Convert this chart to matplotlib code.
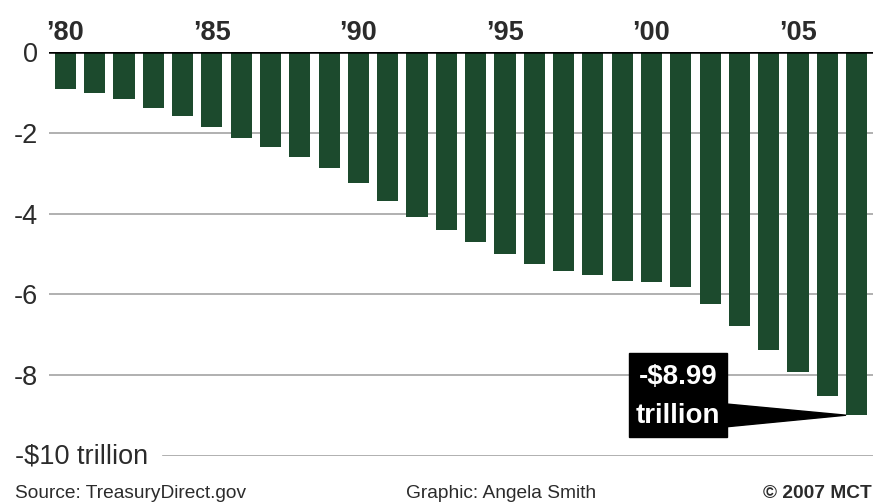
import matplotlib
matplotlib.use("Agg")
import matplotlib.pyplot as plt
from matplotlib.patches import Rectangle, Polygon
from matplotlib.transforms import blended_transform_factory

# ---- data ----
years = list(range(1980, 2008))
debt = [-0.92, -1.01, -1.16, -1.39, -1.58, -1.85, -2.13, -2.36, -2.61, -2.86,
        -3.25, -3.68, -4.08, -4.41, -4.70, -4.99, -5.24, -5.41, -5.53, -5.67,
        -5.69, -5.81, -6.24, -6.79, -7.38, -7.93, -8.51, -8.99]
year_ticks = [1980, 1985, 1990, 1995, 2000, 2005]
year_labels = ["\u201980", "\u201985", "\u201990", "\u201995", "\u201900", "\u201905"]
y_ticks = [0, -2, -4, -6, -8]
y_labels = ["0", "-2", "-4", "-6", "-8"]
bottom_label = "-$10 trillion"
callout = ["-$8.99", "trillion"]

plt.rcParams['font.family'] = ['Liberation Sans', 'DejaVu Sans']

BAR = "#1c4a2d"
GRID = "#a3a3a3"
TXT = "#2b2b2b"

fig = plt.figure(figsize=(8.75, 5.04), dpi=100)
ax = fig.add_axes([49/875, 48/504, 824/875, 404/504])

ax.set_xlim(1979.44, 2007.56)
ax.set_ylim(-10, 0)

for s in ax.spines.values():
    s.set_visible(False)

# gridlines
for v in [-2, -4, -6, -8]:
    ax.axhline(v, color=GRID, lw=1.2, zorder=1)
ax.axhline(-10, xmin=(163-49)/824, xmax=1, color=GRID, lw=1.2, zorder=1)

w = 0.72
ax.bar(years, debt, width=w, color=BAR, zorder=2)
ax.axhline(0, color="black", lw=1.8, zorder=3)

# ticks
ax.xaxis.tick_top()
ax.set_xticks(year_ticks)
ax.set_xticklabels(year_labels, fontsize=19.5, fontweight="bold", color=TXT)
ax.tick_params(axis="x", length=0, pad=4)
ax.set_yticks(y_ticks)
ax.set_yticklabels(y_labels, fontsize=19.5, color=TXT)
ax.tick_params(axis="y", length=0, pad=8)

trans = blended_transform_factory(fig.transFigure, ax.transData)
ax.text(15/875, -10, bottom_label, transform=trans, fontsize=19.5, color=TXT,
        ha="left", va="center")

# callout
tip_x = years[-1] - w/2
tip_y = debt[-1]
bx0, bx1 = 1999.23, 2002.57
by0, by1 = -9.53, -7.45
ax.add_patch(Rectangle((bx0, by0), bx1 - bx0, by1 - by0, color="black", zorder=4))
ax.add_patch(Polygon([(bx1 - 0.05, -8.71), (tip_x, tip_y), (bx1 - 0.05, -9.28)],
                     closed=True, color="black", zorder=4))
cx = (bx0 + bx1) / 2
ax.text(cx, -8.05, callout[0], color="white", fontsize=20, fontweight="bold",
        ha="center", va="center", zorder=5, fontstretch="condensed")
ax.text(cx, -9.0, callout[1], color="white", fontsize=20, fontweight="bold",
        ha="center", va="center", zorder=5, fontstretch="condensed")

# footer
fy = 1 - 494/504
fig.text(15/875, fy, "Source: TreasuryDirect.gov", fontsize=13.8, color=TXT,
         ha="left", va="center")
fig.text(501/875, fy, "Graphic: Angela Smith", fontsize=13.8, color=TXT,
         ha="center", va="center")
fig.text(872/875, fy, "\u00a9 2007 MCT", fontsize=13.8, color=TXT,
         ha="right", va="center", fontweight="bold")

fig.savefig("out.png", dpi=100, facecolor="white")
